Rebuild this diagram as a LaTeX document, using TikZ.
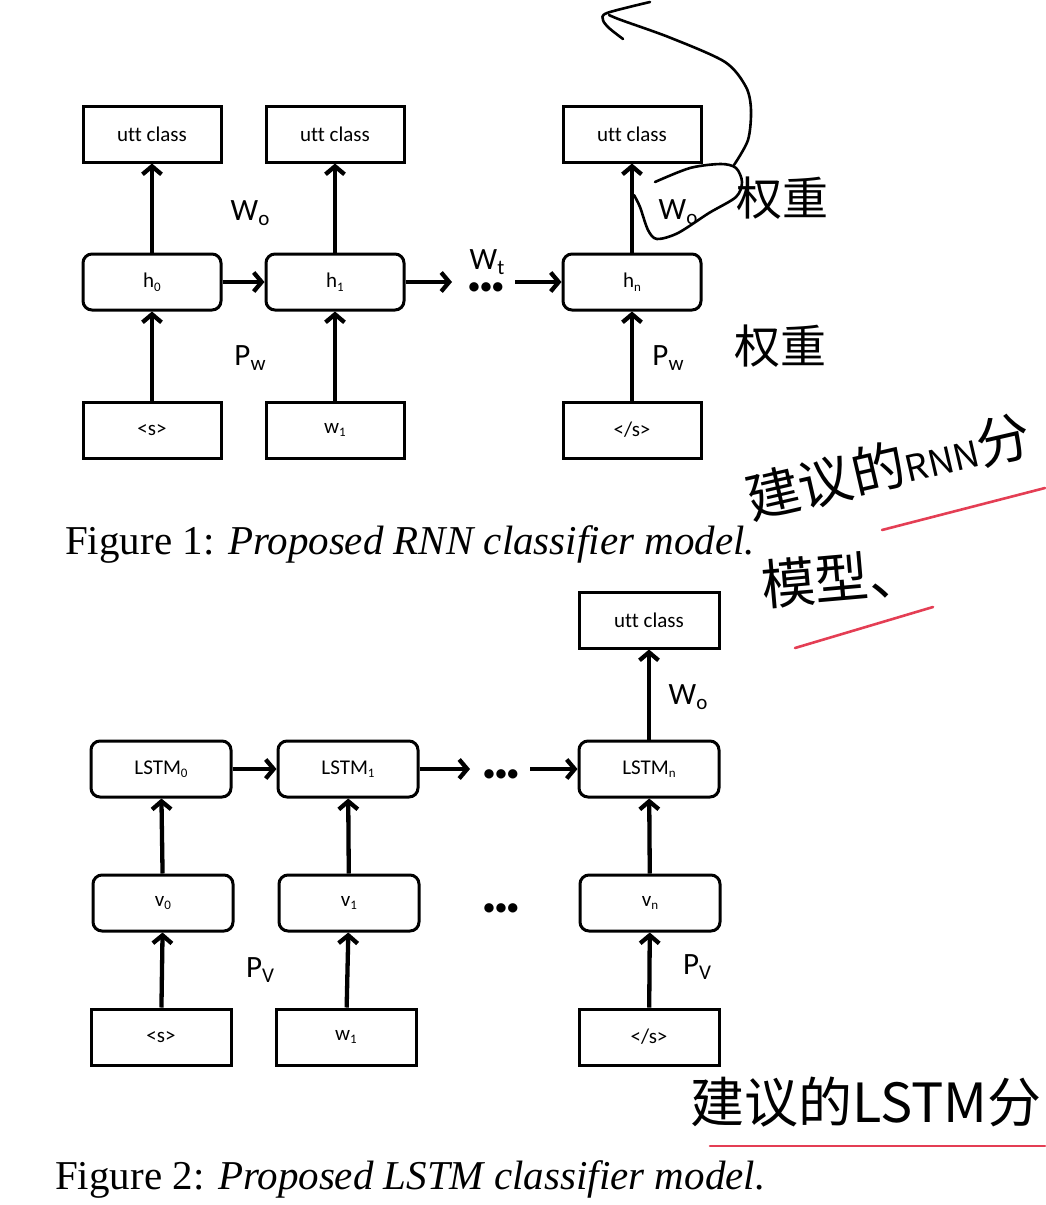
\documentclass[tikz,border=0pt]{standalone}
\usepackage{fontspec}
\setmainfont{Liberation Serif}
\newfontfamily\calibri[Ligatures=CommonOff]{Carlito}
\newfontfamily\cjk{Noto Sans CJK SC}
\usetikzlibrary{arrows.meta,positioning}
\definecolor{penred}{RGB}{228,62,84}
\newcommand{\lsub}[1]{\raisebox{-0.35ex}{\fontsize{13}{13}\selectfont #1}}
\newcommand{\bigsub}[1]{\raisebox{-0.3ex}{\fontsize{21}{21}\selectfont #1}}

\tikzset{
  box/.style={draw,line width=3pt,minimum width=138pt,minimum height=56pt,inner sep=0pt,font=\calibri\fontsize{21}{21}\selectfont},
  cell/.style={box,rounded corners=9pt},
  uparrow/.style={line width=4.3pt,-{Straight Barb[length=8pt,width=19pt]}},
  wlabel/.style={font=\calibri\fontsize{31}{31}\selectfont,inner sep=0pt},
  dots/.style={font=\calibri\bfseries\fontsize{22}{22}\selectfont,inner sep=0pt},
  caption/.style={font=\fontsize{41}{41}\selectfont,anchor=base west,inner sep=0pt},
  hand/.style={font=\cjk\fontsize{54}{54}\selectfont,inner sep=0pt},
  ink/.style={line width=2.6pt,line cap=round,line join=round},
  redline/.style={line width=2.6pt,penred,line cap=round},
}

\begin{document}
\begin{tikzpicture}[x=1pt,y=-1pt]
\useasboundingbox (0,0) rectangle (1045,1205);

% Figure 1: RNN
\node[box] (o0) at (152,134) {utt class};
\node[box] (o1) at (335,134) {utt class};
\node[box] (on) at (632,134) {utt class};
\node[cell] (h0) at (152,282) {h\lsub{0}};
\node[cell] (h1) at (335,282) {h\lsub{1}};
\node[cell] (hn) at (632,282) {h\lsub{n}};
\node[box] (s0) at (152,430) {<s>};
\node[box] (s1) at (335,430) {w\lsub{1}};
\node[box] (sn) at (632,430) {</s>};

\draw[uparrow] (s0) -- (h0);
\draw[uparrow] (s1) -- (h1);
\draw[uparrow] (sn) -- (hn);
\draw[uparrow] (h0) -- (o0);
\draw[uparrow] (h1) -- (o1);
\draw[uparrow] (hn) -- (on);

\coordinate (t1) at (452,282);
\coordinate (t2) at (515,282);
\draw[uparrow] (h0) -- (h1);
\draw[uparrow] (h1) -- (t1);
\draw[uparrow] (t2) -- (hn);
\node[dots] (d1) at (486,288) {\textbullet\kern1pt\textbullet\kern1pt\textbullet};

\node[wlabel] (wo1) at (250,213) {W\bigsub{o}};
\node[wlabel] (wt) at (487,262) {W\bigsub{t}};
\node[wlabel] (pw1) at (250,358) {P\bigsub{w}};
\node[wlabel] (wo2) at (678,212) {W\bigsub{o}};
\node[wlabel] (pw2) at (668,358) {P\bigsub{w}};

\node[caption] (cap1) at (65,554) {Figure 1: \textit{Proposed RNN classifier model.}};

% Figure 2: LSTM
\node[box,minimum width=140pt] (u) at (649,620) {utt class};
\node[cell,minimum width=140pt] (l0) at (161,769) {LSTM\lsub{0}};
\node[cell,minimum width=140pt] (l1) at (348,769) {LSTM\lsub{1}};
\node[cell,minimum width=140pt] (ln) at (649,769) {LSTM\lsub{n}};
\node[cell,minimum width=140pt] (v0) at (163,903) {v\lsub{0}};
\node[cell,minimum width=140pt] (v1) at (349,903) {v\lsub{1}};
\node[cell,minimum width=140pt] (vn) at (650,903) {v\lsub{n}};
\node[box,minimum width=140pt] (x0) at (161,1037) {<s>};
\node[box,minimum width=140pt] (x1) at (346,1037) {w\lsub{1}};
\node[box,minimum width=140pt] (xn) at (649,1037) {</s>};

\draw[uparrow] (x0) -- (v0);
\draw[uparrow] (x1) -- (v1);
\draw[uparrow] (xn) -- (vn);
\draw[uparrow] (v0) -- (l0);
\draw[uparrow] (v1) -- (l1);
\draw[uparrow] (vn) -- (ln);
\draw[uparrow] (ln) -- (u);

\coordinate (t3) at (470,769);
\coordinate (t4) at (530,769);
\draw[uparrow] (l0) -- (l1);
\draw[uparrow] (l1) -- (t3);
\draw[uparrow] (t4) -- (ln);
\node[dots] (d2) at (501,775) {\textbullet\kern1pt\textbullet\kern1pt\textbullet};
\node[dots] (d3) at (501,909) {\textbullet\kern1pt\textbullet\kern1pt\textbullet};

\node[wlabel] (wo3) at (688,697) {W\bigsub{o}};
\node[wlabel] (pv1) at (260,970) {P\bigsub{V}};
\node[wlabel] (pv2) at (697,967) {P\bigsub{V}};

\node[caption] (cap2) at (55,1189) {Figure 2: \textit{Proposed LSTM classifier model.}};

% handwritten notes
\draw[ink] plot[smooth] coordinates {(650,2) (607,13) (603,20) (609,28) (623,39)};
\draw[ink] plot[smooth] coordinates {(609,15) (621,20) (671,38) (725,62) (746,87) (751,110) (748,140) (734,165)};
\draw[ink] plot[smooth] coordinates {(655,182) (690,168) (721,164) (736,168) (742,182) (736,197) (709,213) (678,233) (657,239) (648,230) (640,207) (634,195)};
\node[hand,font=\cjk\fontsize{46}{46}\selectfont] (q1) at (782,198) {权重};
\node[hand,font=\cjk\fontsize{46}{46}\selectfont] (q2) at (780,346) {权重};
\node[hand,rotate=13,anchor=south west] (r1) at (752,524) {建议的{\fontsize{36}{36}\selectfont RNN}分};
\node[hand,rotate=5] (m1) at (842,578) {模型、};
\draw[redline] (882,530) -- (1045,488);
\draw[redline] (795,648) -- (933,607);
\node[hand,anchor=west] (r2) at (690,1102) {建议的LSTM分};
\draw[redline] (710,1146) -- (1045,1146);
\end{tikzpicture}
\end{document}
